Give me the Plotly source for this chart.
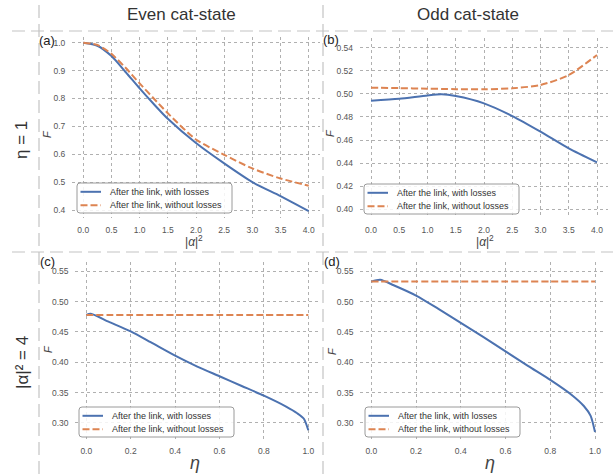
import plotly.graph_objects as go

W, H = 613, 474

# ---------------- data ----------------
# (a) Even cat-state, eta = 1, vs |alpha|^2
a_x = [0.0, 0.25, 0.5, 0.75, 1.0, 1.25, 1.5, 2.0, 2.5, 3.0, 3.5, 4.0]
a_loss = [1.0, 0.989, 0.952, 0.895, 0.836, 0.780, 0.727, 0.640, 0.567, 0.500, 0.450, 0.396]
a_noloss = [1.0, 0.992, 0.960, 0.910, 0.854, 0.800, 0.747, 0.653, 0.598, 0.549, 0.513, 0.487]

# (b) Odd cat-state, eta = 1, vs |alpha|^2
b_x = [0.0, 0.5, 1.0, 1.25, 1.5, 2.0, 2.5, 3.0, 3.5, 4.0]
b_loss = [0.4941, 0.4958, 0.4987, 0.4996, 0.4981, 0.4918, 0.4808, 0.4673, 0.4528, 0.4407]
b_noloss = [0.5054, 0.5050, 0.5045, 0.5043, 0.5041, 0.5040, 0.5048, 0.5077, 0.5163, 0.5337]

# (c) Even cat-state, |alpha|^2 = 4, vs eta
c_x = [0.0, 0.02, 0.1, 0.2, 0.3, 0.4, 0.5, 0.6, 0.7, 0.8, 0.9, 0.95, 0.98, 1.0]
c_loss = [0.478, 0.480, 0.467, 0.451, 0.431, 0.411, 0.393, 0.377, 0.361, 0.345, 0.327, 0.316, 0.307, 0.288]
c_noloss = [0.478] * len(c_x)

# (d) Odd cat-state, |alpha|^2 = 4, vs eta
d_x = [0.0, 0.04, 0.1, 0.2, 0.3, 0.4, 0.5, 0.6, 0.7, 0.8, 0.9, 0.95, 0.98, 1.0]
d_loss = [0.533, 0.536, 0.527, 0.510, 0.488, 0.465, 0.442, 0.418, 0.394, 0.371, 0.345, 0.328, 0.312, 0.285]
d_noloss = [0.533] * len(d_x)

name_loss = "After the link, with losses"
name_noloss = "After the link, without losses"

col_titles = ["Even cat-state", "Odd cat-state"]
row_titles = ["η = 1", "|α|² = 4"]
panel_labels = ["(a)", "(b)", "(c)", "(d)"]

ticks_alpha = [0.0, 0.5, 1.0, 1.5, 2.0, 2.5, 3.0, 3.5, 4.0]
ticks_eta = [0.0, 0.2, 0.4, 0.6, 0.8, 1.0]
yt_a = [0.4, 0.5, 0.6, 0.7, 0.8, 0.9, 1.0]
yt_b = [0.40, 0.42, 0.44, 0.46, 0.48, 0.50, 0.52, 0.54]
yt_cd = [0.30, 0.35, 0.40, 0.45, 0.50, 0.55]

BLUE = "#4c72b0"
ORANGE = "#dd8452"
FONT = "Liberation Sans"
DASH = "7px,3px"


def px_x(p):
    return p / W


def px_y(p):
    return 1 - p / H


fig = go.Figure()

panels = [
    # (xs, loss, noloss, x domain px, y domain px (top,bottom), xrange, yrange, xticks, yticks, yfmt, legend box (left, top))
    (a_x, a_loss, a_noloss, (72, 320), (36.7, 218), (-0.2, 4.2), (0.3713, 1.0215), ticks_alpha, yt_a, ".1f", (77, 183)),
    (b_x, b_loss, b_noloss, (359.7, 608.3), (38, 218), (-0.2, 4.2), (0.3925, 0.5484), ticks_alpha, yt_b, ".2f", (364, 184)),
    (c_x, c_loss, c_noloss, (75.2, 319.4), (262.3, 439), (-0.05, 1.05), (0.2736, 0.5648), ticks_eta, yt_cd, ".2f", (79, 407)),
    (d_x, d_loss, d_noloss, (360.1, 606.2), (262.3, 439), (-0.05, 1.05), (0.2736, 0.5648), ticks_eta, yt_cd, ".2f", (365, 407)),
]

annotations = []
shapes = []

layout_updates = {}
for i, (xs, yl, yn, xd, yd, xr, yr, xt, yt, yfmt, lg) in enumerate(panels):
    k = "" if i == 0 else str(i + 1)
    fig.add_trace(go.Scatter(
        x=xs, y=yl, mode="lines", name=name_loss, showlegend=False,
        line=dict(color=BLUE, width=2, shape="spline", smoothing=0.7),
        xaxis="x" + k, yaxis="y" + k))
    fig.add_trace(go.Scatter(
        x=xs, y=yn, mode="lines", name=name_noloss, showlegend=False,
        line=dict(color=ORANGE, width=2, dash=DASH, shape="spline", smoothing=0.7),
        xaxis="x" + k, yaxis="y" + k))
    layout_updates["xaxis" + k] = dict(
        domain=[px_x(xd[0]), px_x(xd[1])], range=list(xr), anchor="y" + k,
        tickmode="array", tickvals=xt, tickformat=".1f",
        showgrid=True, gridcolor="#b0b0b0", griddash="dot", gridwidth=1,
        zeroline=False, showline=False,
        ticks="outside", ticklen=4, tickcolor="rgba(0,0,0,0)",
        tickfont=dict(size=8.5, color="#555555", family=FONT))
    layout_updates["yaxis" + k] = dict(
        domain=[px_y(yd[1]), px_y(yd[0])], range=list(yr), anchor="x" + k,
        tickmode="array", tickvals=yt, tickformat=yfmt,
        showgrid=True, gridcolor="#b0b0b0", griddash="dot", gridwidth=1,
        zeroline=False, showline=False,
        ticks="outside", ticklen=4, tickcolor="rgba(0,0,0,0)",
        tickfont=dict(size=8.5, color="#555555", family=FONT))

    # legend box (matplotlib-like, rounded corners)
    L, T = lg
    Wb, Hb, r = 155, 30, 3
    x0, x1 = px_x(L), px_x(L + Wb)
    y0, y1 = px_y(T), px_y(T + Hb)
    rx, ry = r / W, r / H
    path = (f"M {x0+rx},{y0} L {x1-rx},{y0} Q {x1},{y0} {x1},{y0-ry} "
            f"L {x1},{y1+ry} Q {x1},{y1} {x1-rx},{y1} "
            f"L {x0+rx},{y1} Q {x0},{y1} {x0},{y1+ry} "
            f"L {x0},{y0-ry} Q {x0},{y0} {x0+rx},{y0} Z")
    shapes.append(dict(type="path", path=path, xref="paper", yref="paper",
                       fillcolor="rgba(255,255,255,0.85)",
                       line=dict(color="#9a9a9a", width=1), layer="above"))
    for j, (nm, col, dsh) in enumerate([(name_loss, BLUE, "solid"), (name_noloss, ORANGE, DASH)]):
        ry_ = T + 8.8 + j * 13.5
        shapes.append(dict(type="line", xref="paper", yref="paper",
                           x0=px_x(L + 3.5), x1=px_x(L + 24), y0=px_y(ry_), y1=px_y(ry_),
                           line=dict(color=col, width=2, dash=dsh), layer="above"))
        annotations.append(dict(text=nm, x=px_x(L + 30.5), y=px_y(ry_), xref="paper", yref="paper",
                                showarrow=False, xanchor="left", yanchor="middle",
                                font=dict(size=9, color="#333333", family=FONT)))

fig.update_layout(**layout_updates)

# column titles
for txt, cx in zip(col_titles, [181, 468]):
    annotations.append(dict(text=txt, x=px_x(cx), y=px_y(15), xref="paper", yref="paper",
                            showarrow=False, xanchor="center", yanchor="middle",
                            font=dict(size=17, color="#333333", family=FONT)))
# row titles
for txt, cy in zip(row_titles, [140, 362]):
    annotations.append(dict(text=txt, x=px_x(22), y=px_y(cy), xref="paper", yref="paper",
                            showarrow=False, xanchor="center", yanchor="middle", textangle=-90,
                            font=dict(size=17, color="#333333", family=FONT)))
# panel labels
for txt, (cx, cy) in zip(panel_labels, [(47, 41), (331, 39), (47, 261), (332, 261)]):
    annotations.append(dict(text=txt, x=px_x(cx), y=px_y(cy), xref="paper", yref="paper",
                            showarrow=False, xanchor="center", yanchor="middle",
                            font=dict(size=13, color="#222222", family=FONT)))
# y-axis titles
for (cx, cy) in [(47, 134), (330, 133), (48, 349), (332, 351)]:
    annotations.append(dict(text="<i>F</i>", x=px_x(cx), y=px_y(cy), xref="paper", yref="paper",
                            showarrow=False, xanchor="center", yanchor="middle", textangle=-90,
                            font=dict(size=11, color="#444444", family=FONT)))
# x-axis titles
for (cx, cy) in [(194, 241), (485, 241)]:
    annotations.append(dict(text="|<i>α</i>|<sup>2</sup>", x=px_x(cx), y=px_y(cy), xref="paper", yref="paper",
                            showarrow=False, xanchor="center", yanchor="middle",
                            font=dict(size=12, color="#444444", family=FONT)))
for (cx, cy) in [(195, 463), (490, 463)]:
    annotations.append(dict(text="<i>η</i>", x=px_x(cx), y=px_y(cy), xref="paper", yref="paper",
                            showarrow=False, xanchor="center", yanchor="middle",
                            font=dict(size=18, color="#444444", family=FONT)))

sep = dict(color="#c4c4c4", width=1.2, dash="13px,6px")
for yy in [31, 252]:
    shapes.append(dict(type="line", xref="paper", yref="paper",
                       x0=px_x(12), x1=1, y0=px_y(yy), y1=px_y(yy), line=sep, layer="below"))
for xx in [39, 323]:
    shapes.append(dict(type="line", xref="paper", yref="paper",
                       x0=px_x(xx), x1=px_x(xx), y0=0, y1=1, line=sep, layer="below"))

fig.update_layout(
    width=W, height=H, margin=dict(l=0, r=0, t=0, b=0),
    paper_bgcolor="white", plot_bgcolor="white",
    annotations=annotations, shapes=shapes,
    font=dict(family=FONT),
    showlegend=False,
)

fig.write_html("out.html")
